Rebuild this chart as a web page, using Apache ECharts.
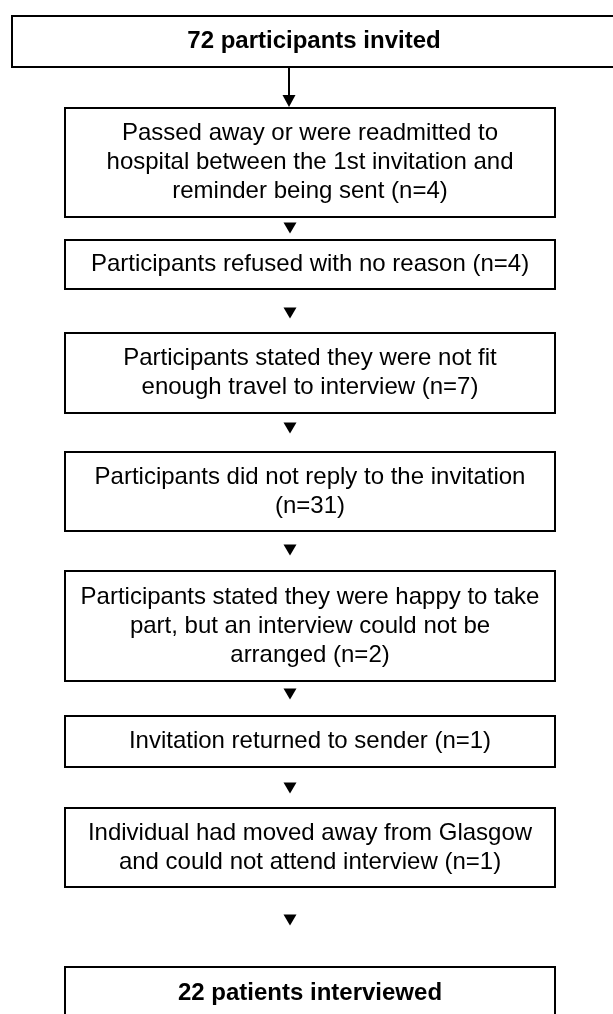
<!DOCTYPE html>
<html>
<head>
<meta charset="utf-8">
<script src="https://cdn.jsdelivr.net/npm/echarts@6/dist/echarts.min.js"></script>
<style>
  html, body { margin: 0; padding: 0; background: #fff; }
  #chart { width: 613px; height: 1014px; }
</style>
</head>
<body>
<div id="chart"></div>
<script>
// flow numbers
const invitedCount = 72;
const invitedLabel = 'participants invited';
const exclusionReasons = [
  'Passed away or were readmitted to\nhospital between the 1st invitation and\nreminder being sent (n={n})',
  'Participants refused with no reason (n={n})',
  'Participants stated they were not fit\nenough travel to interview (n={n})',
  'Participants did not reply to the invitation\n(n={n})',
  'Participants stated they were happy to take\npart, but an interview could not be\narranged (n={n})',
  'Invitation returned to sender (n={n})',
  'Individual had moved away from Glasgow\nand could not attend interview (n={n})'
];
const exclusionCounts = [4, 4, 7, 31, 2, 1, 1];
const interviewedCount = 22;
const interviewedLabel = 'patients interviewed';

// layout in page units (axes run 0..613 across, 0..1014 down)
const boxLeft =   [12, 65, 65, 65, 65, 65, 65, 65, 65];
const boxRight =  [616, 555, 555, 555, 555, 555, 555, 555, 555];
const boxTop =    [16, 108, 240, 333, 452, 571, 716, 808, 967];
const boxBottom = [67, 217, 289, 413, 531, 681, 767, 887, 1019];
const arrowX = 290;
const markerY = [228, 313, 428, 550, 694, 788, 920];

const labels = [invitedCount + ' ' + invitedLabel]
  .concat(exclusionReasons.map((r, i) => r.replace('{n}', exclusionCounts[i])))
  .concat([interviewedCount + ' ' + interviewedLabel]);

const chart = echarts.init(document.getElementById('chart'));

function renderBox(params, api) {
  const i = params.dataIndex;
  const p0 = api.coord([boxLeft[i], boxTop[i]]);
  const p1 = api.coord([boxRight[i], boxBottom[i]]);
  const bold = i === 0 || i === labels.length - 1;
  // last box runs off the page, its text sits near the top
  const ty = i === labels.length - 1 ? api.coord([0, 993])[1] : (p0[1] + p1[1]) / 2;
  return {
    type: 'group',
    children: [
      {
        type: 'rect',
        shape: { x: p0[0], y: p0[1], width: p1[0] - p0[0], height: p1[1] - p0[1] },
        style: { fill: '#fff', stroke: '#000', lineWidth: 2 }
      },
      {
        type: 'text',
        x: (p0[0] + p1[0]) / 2,
        y: ty,
        style: {
          text: labels[i],
          fill: '#000',
          fontFamily: '"Liberation Sans", Arial, sans-serif',
          fontSize: 24,
          fontWeight: bold ? 'bold' : 'normal',
          align: 'center',
          verticalAlign: 'middle',
          lineHeight: 29
        }
      }
    ]
  };
}

function renderMarker(params, api) {
  const i = params.dataIndex;
  const c = api.coord([arrowX, markerY[i]]);
  return {
    type: 'polygon',
    shape: { points: [[c[0] - 6.5, c[1] - 5.5], [c[0] + 6.5, c[1] - 5.5], [c[0], c[1] + 5.5]] },
    style: { fill: '#000' }
  };
}

function renderFirstArrow(params, api) {
  const a = api.coord([arrowX - 1, boxBottom[0]]);
  const b = api.coord([arrowX - 1, boxTop[1]]);
  return {
    type: 'group',
    children: [
      { type: 'line', shape: { x1: a[0], y1: a[1], x2: b[0], y2: b[1] - 11 }, style: { stroke: '#000', lineWidth: 2 } },
      { type: 'polygon', shape: { points: [[b[0] - 6.5, b[1] - 13], [b[0] + 6.5, b[1] - 13], [b[0], b[1] - 1]] }, style: { fill: '#000' } }
    ]
  };
}

chart.setOption({
  animation: false,
  grid: { left: 0, right: 0, top: 0, bottom: 0 },
  xAxis: { type: 'value', min: 0, max: 613, show: false },
  yAxis: { type: 'value', min: 0, max: 1014, inverse: true, show: false },
  series: [
    { type: 'custom', renderItem: renderFirstArrow, data: [[arrowX]], silent: true },
    { type: 'custom', renderItem: renderMarker, data: markerY.map(y => [arrowX, y]), silent: true },
    { type: 'custom', renderItem: renderBox, data: labels.map((_, i) => [i]), silent: true }
  ]
});
</script>
</body>
</html>
